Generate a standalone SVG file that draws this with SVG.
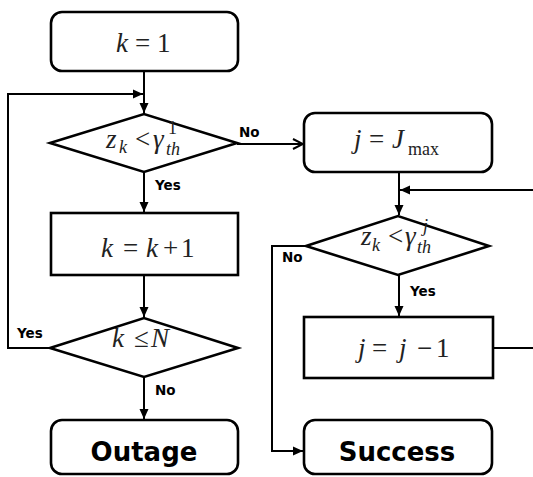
<svg xmlns="http://www.w3.org/2000/svg" width="533" height="477" viewBox="0 0 533 477">
<defs>
<marker id="ah" viewBox="0 0 10 10" refX="10" refY="5" markerWidth="10" markerHeight="10" markerUnits="userSpaceOnUse" orient="auto">
<path d="M0,0.5 L10,5 L0,9.5 Z" fill="#000"/>
</marker>
<marker id="ao" viewBox="0 0 12 12" refX="11" refY="6" markerWidth="12" markerHeight="12" markerUnits="userSpaceOnUse" orient="auto">
<path d="M1,1 L11,6 L1,11" fill="none" stroke="#000" stroke-width="2"/>
</marker>
<style>
.box{fill:#fff;stroke:#000;stroke-width:2.6}
.ln{fill:none;stroke:#000;stroke-width:2}
.m{font-family:'Liberation Serif','Times New Roman',serif;font-size:27px;fill:#222}
.i{font-style:italic}
.s{font-size:18px}
.lb{font-family:'DejaVu Sans',sans-serif;font-weight:bold;font-size:13.5px;fill:#000}
.big{font-family:'DejaVu Sans',sans-serif;font-weight:bold;font-size:26px;fill:#000;text-anchor:middle}
</style>
</defs>
<rect width="533" height="477" fill="#fff"/>
<g id="connectors">
<path class="ln" d="M144,71 V113" marker-end="url(#ah)"/>
<path class="ln" d="M8,348 H50 M8,349 V94 H143" marker-end="url(#ah)"/>
<path class="ln" d="M144,172 V212" marker-end="url(#ah)"/>
<path class="ln" d="M144,275 V317" marker-end="url(#ah)"/>
<path class="ln" d="M144,377 V419" marker-end="url(#ah)"/>
<path class="ln" d="M237,144 H303" marker-end="url(#ao)"/>
<path class="ln" d="M399,172 V215" marker-end="url(#ah)"/>
<path class="ln" d="M533,190 H400" marker-end="url(#ah)"/>
<path class="ln" d="M399,275 V316" marker-end="url(#ah)"/>
<path class="ln" d="M493,348 H533"/>
<path class="ln" d="M306,246 H272 V451 H303" marker-end="url(#ah)"/>
<text class="lb" x="239" y="137">No</text>
<text class="lb" x="155" y="190">Yes</text>
<text class="lb" x="17" y="338">Yes</text>
<text class="lb" x="155" y="395">No</text>
<text class="lb" x="282" y="262">No</text>
<text class="lb" x="410" y="296">Yes</text>
</g>
<g id="n_k1">
<rect class="box" x="51" y="12" width="187" height="59" rx="11"/>
<text class="m"><tspan class="i" x="116" y="52">k</tspan><tspan x="135" y="52">=</tspan><tspan x="157" y="52">1</tspan></text>
</g>
<g id="d_zk1">
<polygon class="box" points="50,143 144,114 237,143 144,172"/>
<text class="m"><tspan class="i" x="106" y="148">z</tspan><tspan class="i s" x="119" y="153">k</tspan><tspan x="135" y="148">&lt;</tspan><tspan class="i" x="153" y="148">γ</tspan><tspan class="s" x="168" y="134">1</tspan><tspan class="i s" x="166" y="155">th</tspan></text>
</g>
<g id="n_kinc">
<rect class="box" x="51" y="213" width="187" height="62"/>
<text class="m"><tspan class="i" x="101" y="257">k</tspan><tspan x="123" y="257">=</tspan><tspan class="i" x="146" y="257">k</tspan><tspan x="163" y="257">+</tspan><tspan x="181" y="257">1</tspan></text>
</g>
<g id="d_kN">
<polygon class="box" points="50,348 144,318 238,348 144,377"/>
<text class="m"><tspan class="i" x="112" y="347">k</tspan><tspan x="134" y="347">≤</tspan><tspan class="i" x="151" y="347">N</tspan></text>
</g>
<g id="n_outage">
<rect class="box" x="51" y="420" width="187" height="54" rx="11"/>
<text class="big" x="144" y="461">Outage</text>
</g>
<g id="n_jmax">
<rect class="box" x="304" y="113" width="188" height="59" rx="11"/>
<text class="m"><tspan class="i" x="354" y="148">j</tspan><tspan x="369" y="148">=</tspan><tspan class="i" x="392" y="148">J</tspan><tspan class="s" x="408" y="155">max</tspan></text>
</g>
<g id="d_zkj">
<polygon class="box" points="306,246 398,216 489,246 398,275"/>
<text class="m"><tspan class="i" x="361" y="245">z</tspan><tspan class="i s" x="372" y="251">k</tspan><tspan x="388" y="245">&lt;</tspan><tspan class="i" x="405" y="245">γ</tspan><tspan class="i s" x="423" y="232">j</tspan><tspan class="i s" x="417" y="253">th</tspan></text>
</g>
<g id="n_jdec">
<rect class="box" x="304" y="317" width="189" height="61"/>
<text class="m"><tspan class="i" x="358" y="357">j</tspan><tspan x="372" y="357">=</tspan><tspan class="i" x="399" y="357">j</tspan><tspan x="417" y="357">−</tspan><tspan x="436" y="357">1</tspan></text>
</g>
<g id="n_success">
<rect class="box" x="304" y="420" width="188" height="54" rx="11"/>
<text class="big" x="397" y="461">Success</text>
</g>
</svg>
